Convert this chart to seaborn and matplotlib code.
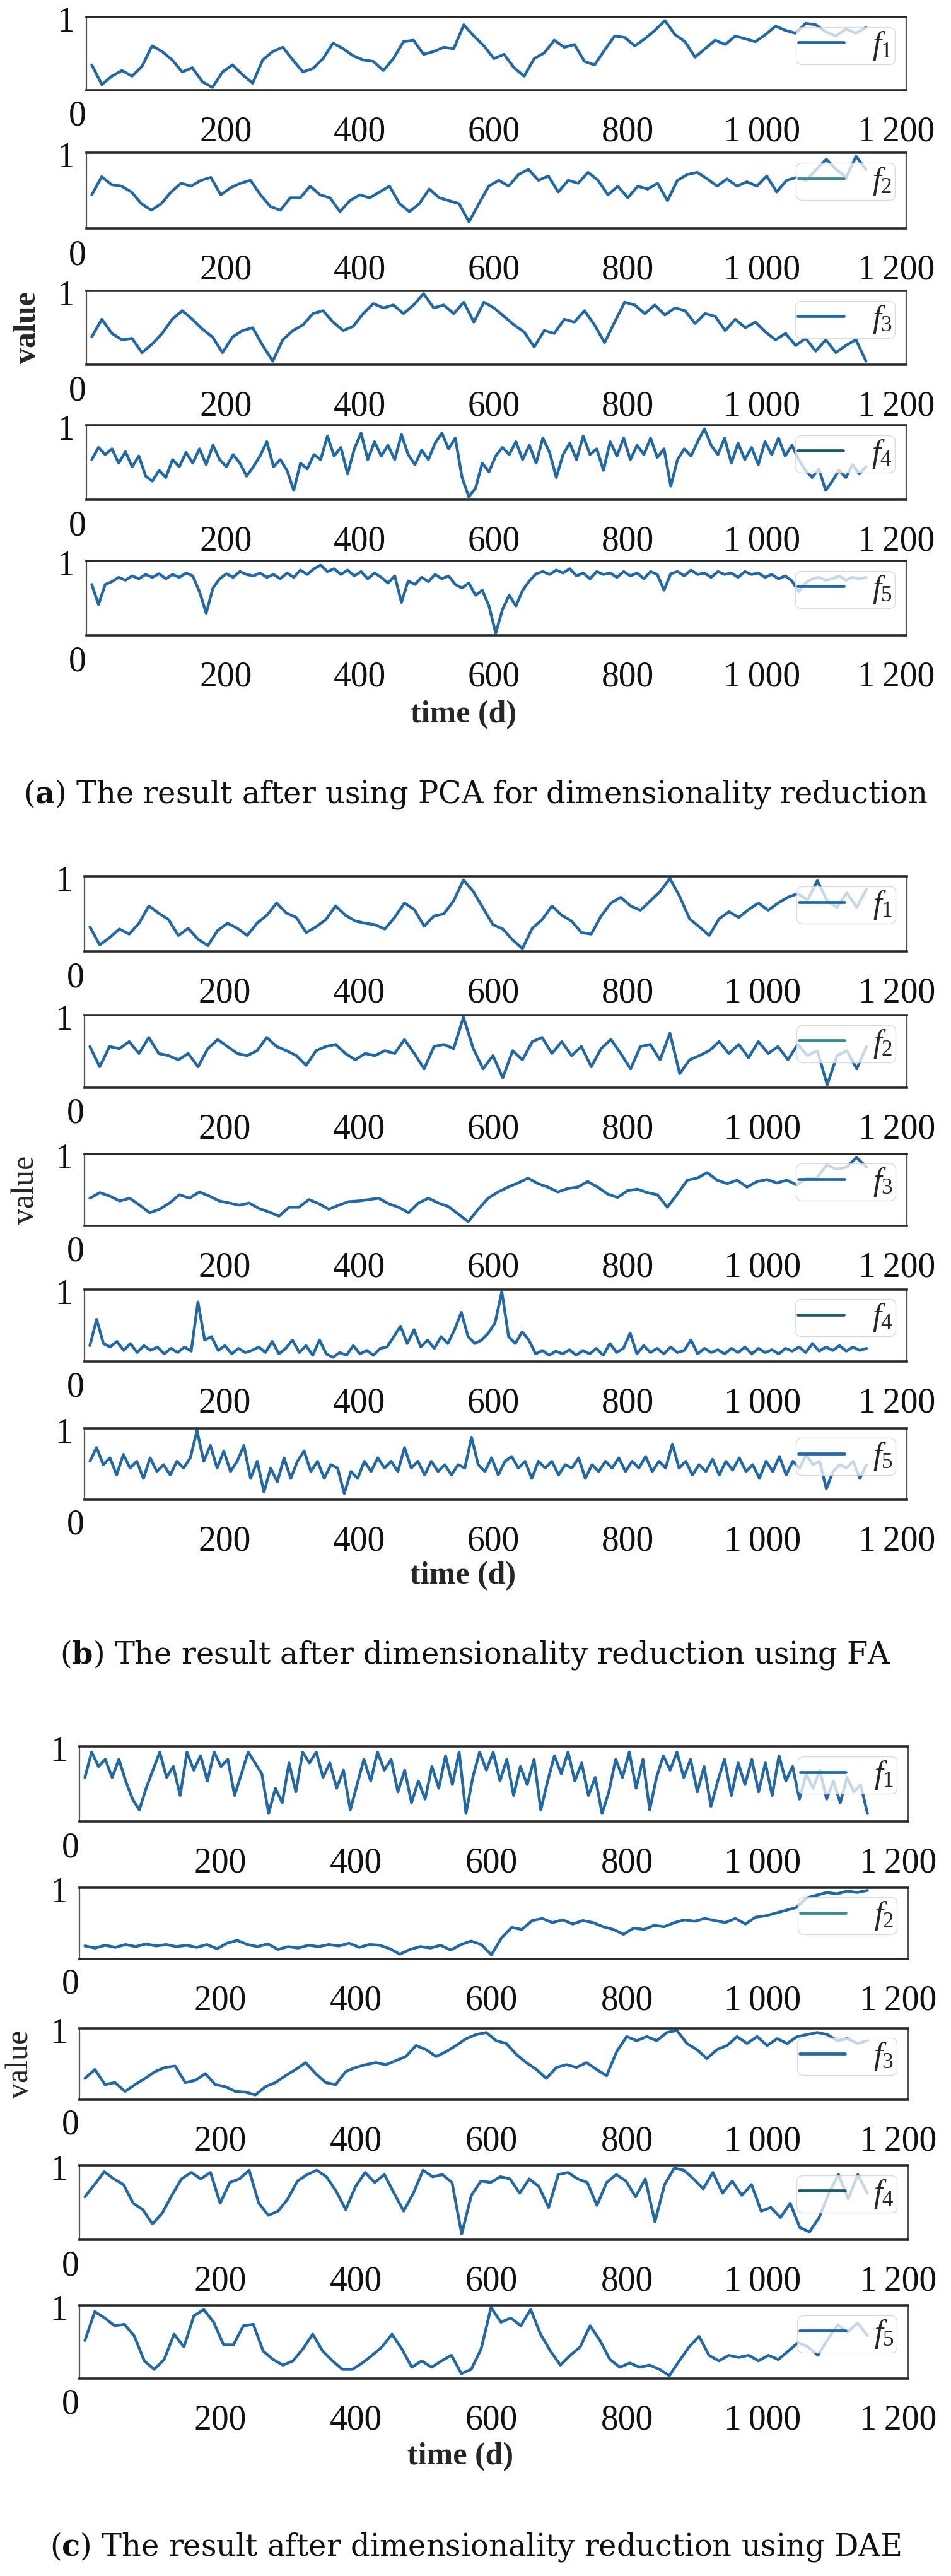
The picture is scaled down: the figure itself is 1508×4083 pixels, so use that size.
import numpy as np
import matplotlib
matplotlib.use("Agg")
import matplotlib.pyplot as plt
import seaborn as sns

# ---- values (normalised 0..1), time runs 0..1155 d ----
T_END = 1155

# (a) PCA
pca_f1 = [0.35, 0.07, 0.19, 0.27, 0.19, 0.33, 0.62, 0.54, 0.42, 0.25, 0.31, 0.11, 0.03, 0.25, 0.35, 0.21,
          0.09, 0.42, 0.54, 0.60, 0.42, 0.25, 0.30, 0.44, 0.66, 0.58, 0.48, 0.42, 0.40, 0.27, 0.44, 0.68,
          0.70, 0.50, 0.54, 0.60, 0.58, 0.92, 0.76, 0.62, 0.44, 0.50, 0.31, 0.19, 0.44, 0.52, 0.70, 0.60,
          0.64, 0.40, 0.35, 0.56, 0.76, 0.74, 0.62, 0.72, 0.84, 0.98, 0.78, 0.68, 0.46, 0.58, 0.70, 0.64,
          0.76, 0.72, 0.68, 0.78, 0.90, 0.84, 0.80, 0.94, 0.92, 0.82, 0.76, 0.86, 0.80, 0.88]
pca_f2 = [0.45, 0.70, 0.59, 0.57, 0.49, 0.33, 0.24, 0.33, 0.49, 0.61, 0.57, 0.65, 0.69, 0.45, 0.55, 0.61,
          0.65, 0.45, 0.29, 0.24, 0.41, 0.41, 0.57, 0.45, 0.41, 0.22, 0.37, 0.45, 0.41, 0.49, 0.57, 0.33,
          0.22, 0.33, 0.53, 0.41, 0.37, 0.33, 0.08, 0.33, 0.57, 0.65, 0.57, 0.73, 0.80, 0.65, 0.71, 0.49,
          0.65, 0.61, 0.76, 0.65, 0.45, 0.57, 0.41, 0.57, 0.53, 0.61, 0.37, 0.65, 0.73, 0.76, 0.67, 0.57,
          0.67, 0.57, 0.63, 0.57, 0.71, 0.49, 0.65, 0.69, 0.65, 0.80, 0.94, 0.80, 0.69, 0.98, 0.80]
pca_f3 = [0.38, 0.63, 0.43, 0.34, 0.36, 0.16, 0.28, 0.43, 0.63, 0.75, 0.63, 0.49, 0.38, 0.16, 0.38, 0.47,
          0.51, 0.26, 0.04, 0.34, 0.47, 0.55, 0.71, 0.75, 0.59, 0.47, 0.53, 0.71, 0.85, 0.79, 0.83, 0.71,
          0.83, 0.99, 0.79, 0.83, 0.71, 0.87, 0.59, 0.87, 0.79, 0.67, 0.55, 0.45, 0.24, 0.47, 0.43, 0.63,
          0.59, 0.75, 0.55, 0.30, 0.59, 0.87, 0.83, 0.71, 0.83, 0.69, 0.79, 0.75, 0.57, 0.71, 0.67, 0.47,
          0.63, 0.51, 0.59, 0.45, 0.34, 0.43, 0.26, 0.36, 0.18, 0.34, 0.16, 0.26, 0.34, 0.04]
pca_f4 = [0.55, 0.72, 0.62, 0.70, 0.50, 0.66, 0.45, 0.60, 0.32, 0.25, 0.40, 0.30, 0.55, 0.45, 0.65, 0.50,
          0.70, 0.48, 0.75, 0.55, 0.45, 0.62, 0.50, 0.32, 0.45, 0.60, 0.80, 0.45, 0.55, 0.40, 0.12, 0.50,
          0.42, 0.62, 0.55, 0.88, 0.60, 0.72, 0.35, 0.70, 0.92, 0.55, 0.80, 0.60, 0.75, 0.55, 0.90, 0.62,
          0.48, 0.68, 0.55, 0.78, 0.92, 0.70, 0.85, 0.30, 0.03, 0.15, 0.50, 0.38, 0.60, 0.72, 0.62, 0.80,
          0.55, 0.75, 0.50, 0.85, 0.65, 0.30, 0.62, 0.78, 0.55, 0.88, 0.62, 0.70, 0.40, 0.80, 0.60, 0.85,
          0.55, 0.75, 0.62, 0.85, 0.58, 0.70, 0.18, 0.55, 0.70, 0.60, 0.80, 0.98, 0.75, 0.62, 0.85, 0.50,
          0.78, 0.55, 0.72, 0.48, 0.80, 0.62, 0.85, 0.60, 0.75, 0.55, 0.40, 0.30, 0.42, 0.12, 0.25, 0.40,
          0.30, 0.48, 0.35, 0.45]
pca_f5 = [0.70, 0.42, 0.70, 0.74, 0.80, 0.76, 0.82, 0.78, 0.84, 0.80, 0.85, 0.78, 0.84, 0.80, 0.86, 0.82,
          0.60, 0.30, 0.65, 0.78, 0.85, 0.80, 0.88, 0.84, 0.82, 0.86, 0.80, 0.84, 0.78, 0.86, 0.80, 0.90,
          0.84, 0.92, 0.97, 0.88, 0.92, 0.84, 0.90, 0.82, 0.88, 0.78, 0.86, 0.80, 0.72, 0.82, 0.45, 0.75,
          0.70, 0.80, 0.74, 0.84, 0.78, 0.82, 0.70, 0.65, 0.72, 0.55, 0.62, 0.40, 0.02, 0.35, 0.55, 0.40,
          0.62, 0.75, 0.85, 0.88, 0.84, 0.90, 0.86, 0.92, 0.82, 0.86, 0.78, 0.88, 0.84, 0.86, 0.80, 0.88,
          0.82, 0.86, 0.78, 0.88, 0.84, 0.62, 0.85, 0.88, 0.82, 0.90, 0.84, 0.86, 0.80, 0.88, 0.84, 0.86,
          0.80, 0.88, 0.84, 0.86, 0.80, 0.84, 0.78, 0.82, 0.75, 0.60, 0.72, 0.78, 0.80, 0.76, 0.78, 0.82,
          0.76, 0.80, 0.78, 0.80]

# (b) FA
fa_f1 = [0.33, 0.08, 0.18, 0.30, 0.23, 0.38, 0.62, 0.52, 0.43, 0.21, 0.31, 0.16, 0.07, 0.28, 0.38, 0.31,
         0.21, 0.38, 0.49, 0.66, 0.52, 0.46, 0.25, 0.33, 0.43, 0.62, 0.49, 0.41, 0.38, 0.36, 0.30, 0.46,
         0.66, 0.57, 0.34, 0.48, 0.51, 0.69, 0.98, 0.82, 0.59, 0.36, 0.30, 0.15, 0.03, 0.31, 0.43, 0.62,
         0.49, 0.41, 0.25, 0.23, 0.48, 0.66, 0.74, 0.62, 0.56, 0.69, 0.82, 1.00, 0.75, 0.44, 0.33, 0.21,
         0.44, 0.54, 0.46, 0.57, 0.66, 0.56, 0.66, 0.74, 0.79, 0.70, 0.97, 0.69, 0.60, 0.80, 0.60, 0.85]
fa_f2 = [0.58, 0.29, 0.58, 0.55, 0.65, 0.48, 0.71, 0.48, 0.45, 0.39, 0.48, 0.29, 0.55, 0.68, 0.58, 0.48,
         0.45, 0.52, 0.71, 0.58, 0.52, 0.45, 0.31, 0.52, 0.58, 0.61, 0.48, 0.39, 0.48, 0.45, 0.52, 0.48,
         0.68, 0.48, 0.26, 0.58, 0.61, 0.55, 1.00, 0.55, 0.26, 0.45, 0.13, 0.52, 0.39, 0.65, 0.71, 0.48,
         0.65, 0.45, 0.58, 0.29, 0.55, 0.68, 0.48, 0.26, 0.58, 0.61, 0.39, 0.77, 0.19, 0.39, 0.45, 0.52,
         0.65, 0.48, 0.61, 0.42, 0.65, 0.48, 0.58, 0.39, 0.61, 0.45, 0.52, 0.03, 0.45, 0.52, 0.26, 0.58]
fa_f3 = [0.39, 0.47, 0.42, 0.35, 0.39, 0.29, 0.18, 0.23, 0.32, 0.44, 0.39, 0.48, 0.42, 0.35, 0.32, 0.29,
         0.32, 0.24, 0.19, 0.13, 0.26, 0.26, 0.37, 0.31, 0.23, 0.29, 0.34, 0.35, 0.37, 0.39, 0.31, 0.26,
         0.18, 0.32, 0.39, 0.32, 0.27, 0.16, 0.05, 0.23, 0.39, 0.48, 0.55, 0.61, 0.68, 0.60, 0.55, 0.48,
         0.53, 0.55, 0.63, 0.55, 0.45, 0.40, 0.50, 0.52, 0.47, 0.44, 0.26, 0.45, 0.65, 0.68, 0.76, 0.65,
         0.60, 0.65, 0.55, 0.63, 0.66, 0.61, 0.65, 0.58, 0.68, 0.68, 0.87, 0.81, 0.84, 0.98, 0.84]
fa_f4 = [0.22, 0.60, 0.25, 0.20, 0.28, 0.15, 0.25, 0.12, 0.22, 0.15, 0.20, 0.10, 0.18, 0.12, 0.20, 0.14,
         0.85, 0.30, 0.35, 0.15, 0.22, 0.10, 0.18, 0.12, 0.15, 0.20, 0.12, 0.28, 0.10, 0.18, 0.30, 0.12,
         0.22, 0.08, 0.30, 0.10, 0.05, 0.12, 0.08, 0.22, 0.10, 0.15, 0.08, 0.18, 0.20, 0.35, 0.50, 0.25,
         0.45, 0.20, 0.30, 0.18, 0.35, 0.25, 0.45, 0.70, 0.35, 0.25, 0.30, 0.40, 0.55, 1.00, 0.35, 0.25,
         0.42, 0.30, 0.10, 0.15, 0.08, 0.14, 0.10, 0.16, 0.08, 0.15, 0.10, 0.18, 0.08, 0.25, 0.12, 0.18,
         0.40, 0.10, 0.22, 0.12, 0.18, 0.10, 0.20, 0.12, 0.15, 0.30, 0.10, 0.18, 0.12, 0.16, 0.10, 0.18,
         0.12, 0.20, 0.10, 0.18, 0.12, 0.16, 0.10, 0.18, 0.14, 0.20, 0.12, 0.25, 0.14, 0.20, 0.15, 0.22,
         0.14, 0.20, 0.15, 0.18]
fa_f5 = [0.55, 0.75, 0.50, 0.60, 0.35, 0.65, 0.45, 0.55, 0.30, 0.60, 0.40, 0.50, 0.35, 0.55, 0.45, 0.60,
         1.00, 0.55, 0.78, 0.45, 0.70, 0.40, 0.55, 0.78, 0.30, 0.55, 0.10, 0.45, 0.25, 0.60, 0.30, 0.55,
         0.70, 0.40, 0.55, 0.30, 0.50, 0.45, 0.08, 0.40, 0.30, 0.55, 0.40, 0.60, 0.45, 0.55, 0.40, 0.75,
         0.45, 0.55, 0.35, 0.55, 0.40, 0.50, 0.35, 0.50, 0.45, 0.90, 0.50, 0.40, 0.60, 0.35, 0.55, 0.62,
         0.45, 0.55, 0.30, 0.55, 0.45, 0.55, 0.35, 0.50, 0.45, 0.60, 0.30, 0.50, 0.40, 0.55, 0.45, 0.60,
         0.40, 0.55, 0.45, 0.62, 0.40, 0.55, 0.45, 0.80, 0.45, 0.55, 0.35, 0.50, 0.40, 0.58, 0.35, 0.55,
         0.42, 0.60, 0.40, 0.50, 0.30, 0.55, 0.40, 0.62, 0.35, 0.55, 0.45, 0.65, 0.50, 0.55, 0.15, 0.40,
         0.50, 0.45, 0.55, 0.30, 0.50]

# (c) DAE
dae_f1 = [0.60, 0.95, 0.75, 0.85, 0.60, 0.85, 0.55, 0.30, 0.15, 0.45, 0.70, 0.95, 0.60, 0.75, 0.35, 0.95,
          0.70, 0.90, 0.55, 0.95, 0.75, 0.85, 0.35, 0.65, 0.95, 0.80, 0.65, 0.10, 0.45, 0.25, 0.80, 0.40,
          0.95, 0.80, 0.95, 0.60, 0.80, 0.45, 0.70, 0.15, 0.50, 0.85, 0.55, 0.95, 0.70, 0.85, 0.40, 0.70,
          0.25, 0.55, 0.30, 0.75, 0.45, 0.90, 0.50, 0.95, 0.10, 0.60, 0.95, 0.70, 0.95, 0.55, 0.85, 0.35,
          0.75, 0.50, 0.85, 0.15, 0.55, 0.90, 0.65, 0.95, 0.55, 0.80, 0.35, 0.60, 0.10, 0.40, 0.85, 0.60,
          0.95, 0.45, 0.85, 0.15, 0.60, 0.90, 0.70, 0.95, 0.60, 0.85, 0.40, 0.75, 0.20, 0.55, 0.85, 0.35,
          0.80, 0.50, 0.85, 0.40, 0.80, 0.35, 0.90, 0.55, 0.75, 0.30, 0.65, 0.45, 0.70, 0.30, 0.55, 0.25,
          0.60, 0.40, 0.50, 0.10]
dae_f2 = [0.18, 0.15, 0.19, 0.16, 0.20, 0.17, 0.21, 0.18, 0.20, 0.17, 0.19, 0.16, 0.20, 0.14, 0.22, 0.26,
          0.20, 0.17, 0.21, 0.13, 0.17, 0.15, 0.19, 0.17, 0.20, 0.18, 0.22, 0.16, 0.20, 0.19, 0.14, 0.06,
          0.13, 0.17, 0.15, 0.19, 0.12, 0.20, 0.25, 0.20, 0.05, 0.30, 0.45, 0.42, 0.55, 0.58, 0.52, 0.56,
          0.50, 0.55, 0.52, 0.46, 0.42, 0.35, 0.44, 0.42, 0.48, 0.46, 0.52, 0.56, 0.54, 0.58, 0.55, 0.52,
          0.58, 0.50, 0.60, 0.62, 0.66, 0.70, 0.74, 0.88, 0.92, 0.96, 0.94, 0.98, 0.96, 0.99]
dae_f3 = [0.30, 0.43, 0.21, 0.24, 0.11, 0.21, 0.30, 0.40, 0.46, 0.48, 0.24, 0.27, 0.37, 0.21, 0.18, 0.11,
          0.10, 0.06, 0.18, 0.24, 0.34, 0.43, 0.53, 0.37, 0.24, 0.21, 0.40, 0.46, 0.50, 0.53, 0.50, 0.56,
          0.62, 0.78, 0.72, 0.62, 0.69, 0.78, 0.88, 0.94, 0.97, 0.85, 0.81, 0.65, 0.53, 0.43, 0.30, 0.46,
          0.50, 0.46, 0.53, 0.43, 0.34, 0.69, 0.91, 0.85, 0.91, 0.85, 0.97, 1.00, 0.81, 0.72, 0.59, 0.72,
          0.78, 0.91, 0.81, 0.91, 0.78, 0.88, 0.81, 0.91, 0.94, 0.97, 0.94, 0.85, 0.88, 0.81, 0.85]
dae_f4 = [0.59, 0.76, 0.94, 0.84, 0.76, 0.50, 0.41, 0.21, 0.36, 0.61, 0.84, 0.93, 0.84, 0.93, 0.50, 0.79,
          0.84, 0.96, 0.50, 0.33, 0.39, 0.56, 0.81, 0.90, 0.96, 0.87, 0.67, 0.41, 0.73, 0.93, 0.79, 0.90,
          0.64, 0.39, 0.64, 0.96, 0.87, 0.90, 0.79, 0.07, 0.61, 0.81, 0.79, 0.87, 0.84, 0.64, 0.84, 0.73,
          0.44, 0.90, 0.93, 0.84, 0.79, 0.47, 0.79, 0.90, 0.81, 0.59, 0.84, 0.24, 0.76, 0.99, 0.96, 0.84,
          0.70, 0.93, 0.64, 0.81, 0.61, 0.76, 0.39, 0.44, 0.30, 0.50, 0.16, 0.10, 0.30, 0.64, 0.90, 0.56,
          0.90, 0.64]
dae_f5 = [0.53, 0.94, 0.85, 0.74, 0.76, 0.59, 0.24, 0.12, 0.26, 0.62, 0.44, 0.88, 0.97, 0.79, 0.47, 0.47,
          0.74, 0.76, 0.38, 0.26, 0.18, 0.24, 0.41, 0.62, 0.38, 0.24, 0.12, 0.12, 0.21, 0.32, 0.44, 0.62,
          0.41, 0.15, 0.24, 0.15, 0.24, 0.32, 0.06, 0.12, 0.41, 1.00, 0.79, 0.85, 0.74, 0.97, 0.62, 0.38,
          0.18, 0.32, 0.44, 0.74, 0.53, 0.26, 0.15, 0.21, 0.15, 0.18, 0.12, 0.03, 0.24, 0.44, 0.59, 0.32,
          0.24, 0.32, 0.29, 0.32, 0.24, 0.32, 0.26, 0.38, 0.50, 0.44, 0.32, 0.55, 0.75, 0.65, 0.78, 0.60]

x_ticks = [200, 400, 600, 800, 1000, 1200]
x_tick_labels = ["200", "400", "600", "800", "1\u2009000", "1\u2009200"]
legend_labels = ["$f_1$", "$f_2$", "$f_3$", "$f_4$", "$f_5$"]
captions = ["($\\mathbf{a}$) The result after using PCA for dimensionality reduction",
            "($\\mathbf{b}$) The result after dimensionality reduction using FA",
            "($\\mathbf{c}$) The result after dimensionality reduction using DAE"]

LINE = "#2068a8"
LEGEND_COLORS = ["#2068a8", "#3a8a8e", "#2068a8", "#1d5d68", "#2068a8"]

W, H = 1508, 4083
sns.set_theme(style="white")
plt.rcParams["font.family"] = ["Liberation Serif", "DejaVu Serif"]
plt.rcParams["mathtext.fontset"] = "custom"
plt.rcParams["mathtext.it"] = "Liberation Serif:italic"
plt.rcParams["mathtext.rm"] = "Liberation Serif"
plt.rcParams["mathtext.bf"] = "DejaVu Serif:bold"

fig = plt.figure(figsize=(W / 100, H / 100), dpi=100)
fig.patch.set_facecolor("white")

# pixel layout of each panel: (tops, bottoms, left, right, caption y, bold 'value')
panels = [
    ([pca_f1, pca_f2, pca_f3, pca_f4, pca_f5], [27, 242, 461, 674, 889],
     [143, 362, 578, 792, 1007], 137, 1437, 1259, True),
    ([fa_f1, fa_f2, fa_f3, fa_f4, fa_f5], [1389, 1609, 1829, 2044, 2264],
     [1508, 1724, 1943, 2158, 2377], 134, 1438, 2623, False),
    ([dae_f1, dae_f2, dae_f3, dae_f4, dae_f5], [2768, 2992, 3215, 3432, 3654],
     [2887, 3105, 3328, 3550, 3770], 126, 1440, 4037, False),
]

for p, (series, tops, bots, left, right, cap_y, bold_value) in enumerate(panels):
    for i, vals in enumerate(series):
        top, bot = tops[i], bots[i]
        ax = fig.add_axes([left / W, 1 - bot / H, (right - left) / W, (bot - top) / H])
        t = np.linspace(0, T_END, len(vals))
        sns.lineplot(x=t, y=vals, ax=ax, color=LINE, linewidth=3.2, label=legend_labels[i])
        ax.set_xlim(-8, 1215)
        ax.set_ylim(-0.01, 1.03)
        ax.set_xticks(x_ticks)
        ax.set_xticklabels(x_tick_labels)
        ax.set_yticks([1])
        ax.set_yticklabels(["1"])
        ax.tick_params(axis="x", direction="in", length=7, width=1.5, color="#555555",
                       pad=29, labelsize=40, labelcolor="#111111")
        ax.tick_params(axis="y", direction="in", length=7, width=1.5, color="#555555",
                       pad=14, labelsize=40, labelcolor="#111111")
        ax.text(0, -0.36, "0", transform=ax.transAxes, ha="right", va="center",
                fontsize=40, color="#111111")
        for side in ["top", "bottom"]:
            ax.spines[side].set_linewidth(2.6)
            ax.spines[side].set_color("#2a2a2a")
        for side in ["left", "right"]:
            ax.spines[side].set_linewidth(1.6)
            ax.spines[side].set_color("#555555")
        ax.set_xlabel("")
        ax.set_ylabel("")

        leg = ax.legend(loc="upper right", bbox_to_anchor=(0.986, 0.865), borderaxespad=0,
                        fontsize=36, handlelength=1.45, handletextpad=0.9, borderpad=0.08,
                        framealpha=0.75, edgecolor="#d0d0d0", fancybox=True)
        for ln in leg.get_lines():
            ln.set_color(LEGEND_COLORS[i])
            ln.set_linewidth(3.4)

        if i == 2:
            ax.set_ylabel("value", fontsize=36, fontweight="bold" if bold_value else "normal")
            ax.yaxis.set_label_coords(-0.054, 0.5)
        if i == 4:
            ax.set_xlabel("time (d)", fontsize=36, fontweight="bold")
            ax.xaxis.set_label_coords(0.46, -0.87)

    fig.text(0.5, 1 - cap_y / H, captions[p], ha="center", va="center",
             fontsize=34.5, family="DejaVu Serif", color="#111111")

fig.savefig("out.png", dpi=100, facecolor="white")
